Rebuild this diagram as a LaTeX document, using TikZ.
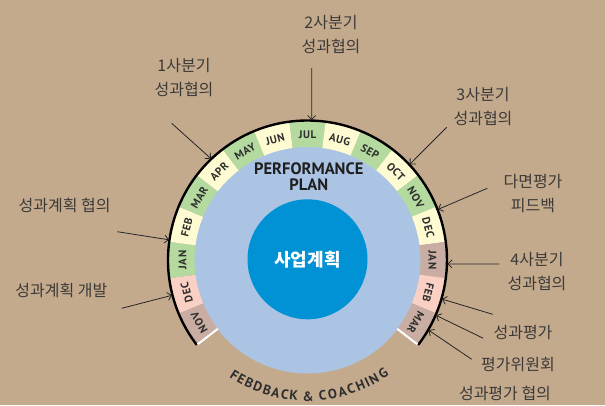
\documentclass[tikz,border=0pt]{standalone}
\usepackage{fontspec}
\usetikzlibrary{arrows.meta,calc}
\newfontfamily\krfont{Noto Sans CJK KR}
\newfontfamily\monthfont[LetterSpace=5]{PT Sans}
\newfontfamily\dinfont{PT Sans}
\definecolor{bgtan}{RGB}{196,170,141}
\definecolor{ltblue}{RGB}{172,196,228}
\definecolor{dkblue}{RGB}{0,146,212}
\definecolor{mgreen}{RGB}{180,218,160}
\definecolor{mcream}{RGB}{254,251,210}
\definecolor{mpink}{RGB}{249,208,195}
\definecolor{mbrown}{RGB}{201,173,162}
\definecolor{txtgray}{RGB}{60,58,56}
\begin{document}
\begin{tikzpicture}[x=1pt,y=1pt,
  lbl/.style={font=\krfont\fontsize{16}{24}\selectfont, text=txtgray, align=center, inner sep=0pt},
  pointer/.style={draw=black!85, line width=0.8pt, -{Straight Barb[length=4pt,width=8pt]}},
  monthlbl/.style={font=\monthfont\bfseries\fontsize{11}{11}\selectfont, text=black!82, inner sep=0pt},
  arcletter/.style={font=\dinfont\bfseries\fontsize{13.5}{13.5}\selectfont, text=black!82, inner sep=0pt, anchor=base}]
\fill[bgtan] (0,0) rectangle (605,-405);
\useasboundingbox (0,0) rectangle (605,-405);
\coordinate (c) at (307.5,-260);
\fill[ltblue] (c) circle[radius=113.5];
% ring segments
\foreach \i/\m/\col in {0/NOV/mbrown,1/DEC/mpink,2/JAN/mgreen,3/FEB/mcream,4/MAR/mgreen,5/APR/mcream,6/MAY/mgreen,7/JUN/mcream,8/JUL/mgreen,9/AUG/mcream,10/SEP/mgreen,11/OCT/mcream,12/NOV/mgreen,13/DEC/mcream,14/JAN/mbrown,15/FEB/mpink,16/MAR/mbrown} {
  \pgfmathsetmacro\aA{217.5-15*\i}
  \pgfmathsetmacro\aB{\aA-15}
  \pgfmathsetmacro\aM{\aA-7.5}
  \fill[\col] ($(c)+(\aA:113)$) arc[start angle=\aA,end angle=\aB,radius=113] -- ($(c)+(\aB:139.5)$) arc[start angle=\aB,end angle=\aA,radius=139.5] -- cycle;
  \node[monthlbl,rotate=\aM-90] (m\i) at ($(c)+(\aM:125)$) {\m};
}
\draw[line width=2.4pt] ($(c)+(217.5:139.5)$) arc[start angle=217.5,end angle=-37.5,radius=139.5];
\draw[white,line width=2pt] ($(c)+(217.5:113)$) -- ($(c)+(217.5:138.5)$);
\draw[white,line width=2pt] ($(c)+(-37.5:113)$) -- ($(c)+(-37.5:138.5)$);
% core
\node[circle, fill=dkblue, minimum size=120pt, inner sep=0pt, text=white, font=\krfont\bfseries\fontsize{18}{18}\selectfont] (core) at (307.5,-259.3) {사업계획};
\node[font=\dinfont\bfseries\fontsize{16.5}{16}\selectfont, text=black!88, align=center, inner sep=0pt] (plan) at (308.8,-177) {PERFORMANCE\\PLAN};
% curved text
\foreach \k/\ch/\ang in {1/F/237.6,2/E/241,3/B/244.7,4/D/248.7,5/B/252.7,6/A/256.5,7/C/260.4,8/K/264.2,9/\&/270.3,10/C/276.4,11/O/280.6,12/A/284.8,13/C/288.6,14/H/292.8,15/I/296,16/N/299.2,17/G/303.7}
  \node[arcletter, rotate=\ang+90] (fb\k) at ($(c)+(\ang:141)$) {\ch};
% labels
\node[lbl] (q2) at (331,-35) {2사분기\\성과협의};
\node[lbl] (q1) at (184,-78) {1사분기\\성과협의};
\node[lbl] (q3) at (483,-107) {3사분기\\성과협의};
\node[lbl] (multi) at (533,-193.5) {다면평가\\피드백};
\node[lbl] (q4) at (537,-271.5) {4사분기\\성과협의};
\node[lbl] (planc) at (64.7,-205.5) {성과계획 협의};
\node[lbl] (pland) at (61.3,-290.5) {성과계획 개발};
\node[lbl] (eval) at (523,-332.5) {성과평가};
\node[lbl] (comm) at (518,-365) {평가위원회};
\node[lbl] (evalc) at (505,-393.5) {성과평가 협의};
% arrows
\coordinate (t2) at (311.7,-68);   \coordinate (h2) at ($(c)+(88.3:140)$);
\coordinate (t1) at (171.7,-123.3); \coordinate (h1) at ($(c)+(133.6:140)$);
\coordinate (t3) at (446.7,-127.3); \coordinate (h3) at ($(c)+(43.1:140)$);
\coordinate (tm) at (487.3,-188.3); \coordinate (hm) at ($(c)+(21.2:140)$);
\coordinate (t4) at (499.3,-264);   \coordinate (h4) at ($(c)+(-1.6:140)$);
\coordinate (te) at (492.7,-314.3); \coordinate (he) at ($(c)+(-16.2:140)$);
\coordinate (tc) at (483.3,-338.3); \coordinate (hc) at ($(c)+(-23.3:140)$);
\coordinate (tx) at (471.7,-359.3); \coordinate (hx) at ($(c)+(-30.1:140)$);
\coordinate (tp) at (117.3,-231.7); \coordinate (hp) at ($(c)+(171.7:140)$);
\coordinate (td) at (121.7,-308.3); \coordinate (hd) at ($(c)+(194.6:140)$);
\foreach \s/\e in {t2/h2,t1/h1,t3/h3,tm/hm,t4/h4,te/he,tc/hc,tx/hx,tp/hp,td/hd} \draw[pointer] (\s) -- (\e);
\end{tikzpicture}
\end{document}
